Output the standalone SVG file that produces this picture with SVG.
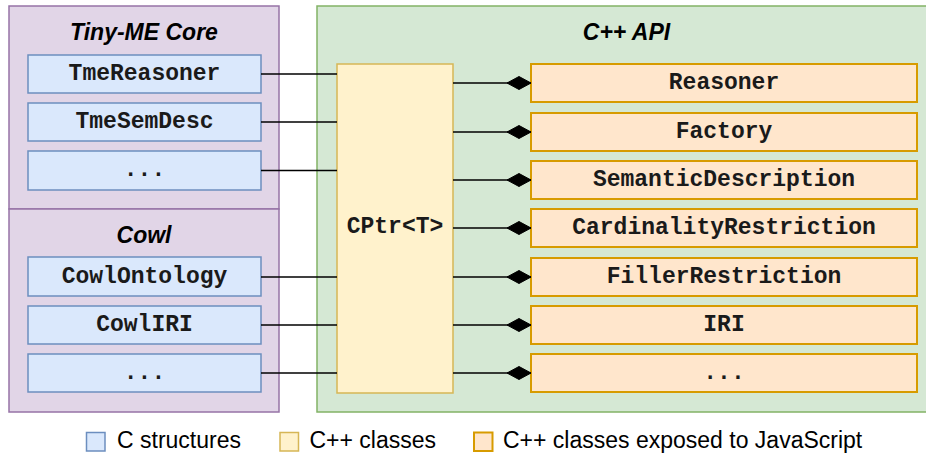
<svg xmlns="http://www.w3.org/2000/svg" width="926" height="455" viewBox="0 0 926 455">
  <style>
    .pkg { fill: #e1d5e7; stroke: #9673a6; stroke-width: 1.5; }
    .api { fill: #d5e8d4; stroke: #82b366; stroke-width: 1.5; }
    .cs { fill: #dae8fc; stroke: #6c8ebf; stroke-width: 1.5; }
    .cpp { fill: #fff2cc; stroke: #d6b656; stroke-width: 1.5; }
    .js { fill: #ffe6cc; stroke: #d79b00; stroke-width: 2; }
    .title { font-family: "Liberation Sans", Arial, sans-serif; font-size: 23px; font-weight: bold; font-style: italic; fill: #000; text-anchor: middle; }
    .code { font-family: "Liberation Mono", "Courier New", monospace; font-size: 23px; font-weight: bold; fill: #1a1a1a; text-anchor: middle; }
    .legend { font-family: "Liberation Sans", Arial, sans-serif; font-size: 23px; fill: #000; }
    .link { stroke: #000; stroke-width: 1.5; fill: none; }
  </style>
  <defs>
    <marker id="diamond" markerUnits="userSpaceOnUse" markerWidth="26" markerHeight="16" viewBox="0 0 26 16" refX="25" refY="8" orient="auto">
      <path d="M1,8 L13,1.5 L25,8 L13,14.5 Z" fill="#000" stroke="#000" stroke-width="1"/>
    </marker>
  </defs>

  <rect width="926" height="455" fill="#ffffff"/>

  <!-- Tiny-ME Core package -->
  <g id="tinyme-core">
    <rect class="pkg" x="9" y="6" width="270" height="203"/>
    <text class="title" x="144" y="40">Tiny-ME Core</text>
  </g>
  <g id="tme-reasoner">
    <rect class="cs" x="28" y="55" width="233" height="38"/>
    <text class="code" x="144.5" y="80">TmeReasoner</text>
  </g>
  <g id="tme-semdesc">
    <rect class="cs" x="28" y="103" width="233" height="38"/>
    <text class="code" x="144.5" y="128">TmeSemDesc</text>
  </g>
  <g id="tme-more">
    <rect class="cs" x="28" y="151" width="233" height="39"/>
    <text class="code" x="144.5" y="176">...</text>
  </g>

  <!-- Cowl package -->
  <g id="cowl">
    <rect class="pkg" x="9" y="209" width="270" height="203"/>
    <text class="title" x="144" y="243">Cowl</text>
  </g>
  <g id="cowl-ontology">
    <rect class="cs" x="28" y="257" width="233" height="39"/>
    <text class="code" x="144.5" y="283">CowlOntology</text>
  </g>
  <g id="cowl-iri">
    <rect class="cs" x="28" y="306" width="233" height="38"/>
    <text class="code" x="144.5" y="331">CowlIRI</text>
  </g>
  <g id="cowl-more">
    <rect class="cs" x="28" y="354" width="233" height="38"/>
    <text class="code" x="144.5" y="379">...</text>
  </g>

  <!-- C++ API package -->
  <g id="cpp-api">
    <rect class="api" x="317" y="6" width="619" height="406"/>
    <text class="title" x="626.5" y="40">C++ API</text>
  </g>
  <g id="cptr">
    <rect class="cpp" x="337" y="64" width="116" height="329"/>
    <text class="code" x="395" y="233">CPtr&lt;T&gt;</text>
  </g>
  <g id="reasoner">
    <rect class="js" x="531" y="64" width="386" height="38"/>
    <text class="code" x="724" y="89">Reasoner</text>
  </g>
  <g id="factory">
    <rect class="js" x="531" y="113" width="386" height="38"/>
    <text class="code" x="724" y="138">Factory</text>
  </g>
  <g id="semantic-description">
    <rect class="js" x="531" y="161" width="386" height="38"/>
    <text class="code" x="724" y="186">SemanticDescription</text>
  </g>
  <g id="cardinality-restriction">
    <rect class="js" x="531" y="209" width="386" height="38"/>
    <text class="code" x="724" y="234">CardinalityRestriction</text>
  </g>
  <g id="filler-restriction">
    <rect class="js" x="531" y="258" width="386" height="38"/>
    <text class="code" x="724" y="283">FillerRestriction</text>
  </g>
  <g id="iri">
    <rect class="js" x="531" y="306" width="386" height="38"/>
    <text class="code" x="724" y="331">IRI</text>
  </g>
  <g id="api-more">
    <rect class="js" x="531" y="354" width="386" height="38"/>
    <text class="code" x="724" y="379">...</text>
  </g>

  <!-- Connectors -->
  <g id="connectors">
    <line class="link" x1="261" y1="74" x2="337" y2="74"/>
    <line class="link" x1="261" y1="122" x2="337" y2="122"/>
    <line class="link" x1="261" y1="170.5" x2="337" y2="170.5"/>
    <line class="link" x1="261" y1="277" x2="337" y2="277"/>
    <line class="link" x1="261" y1="325" x2="337" y2="325"/>
    <line class="link" x1="261" y1="373" x2="337" y2="373"/>

    <line class="link" x1="453" y1="83" x2="531" y2="83" marker-end="url(#diamond)"/>
    <line class="link" x1="453" y1="132" x2="531" y2="132" marker-end="url(#diamond)"/>
    <line class="link" x1="453" y1="180" x2="531" y2="180" marker-end="url(#diamond)"/>
    <line class="link" x1="453" y1="228" x2="531" y2="228" marker-end="url(#diamond)"/>
    <line class="link" x1="453" y1="277" x2="531" y2="277" marker-end="url(#diamond)"/>
    <line class="link" x1="453" y1="325" x2="531" y2="325" marker-end="url(#diamond)"/>
    <line class="link" x1="453" y1="373" x2="531" y2="373" marker-end="url(#diamond)"/>
  </g>

  <!-- Legend -->
  <g id="legend">
    <rect class="cs" x="86.5" y="432.5" width="18.5" height="18.5"/>
    <text class="legend" x="117" y="448">C structures</text>
    <rect class="cpp" x="280" y="432.5" width="18.5" height="18.5"/>
    <text class="legend" x="309.5" y="448">C++ classes</text>
    <rect class="js" x="474" y="432.5" width="18.5" height="18.5"/>
    <text class="legend" x="503" y="448">C++ classes exposed to JavaScript</text>
  </g>
</svg>
